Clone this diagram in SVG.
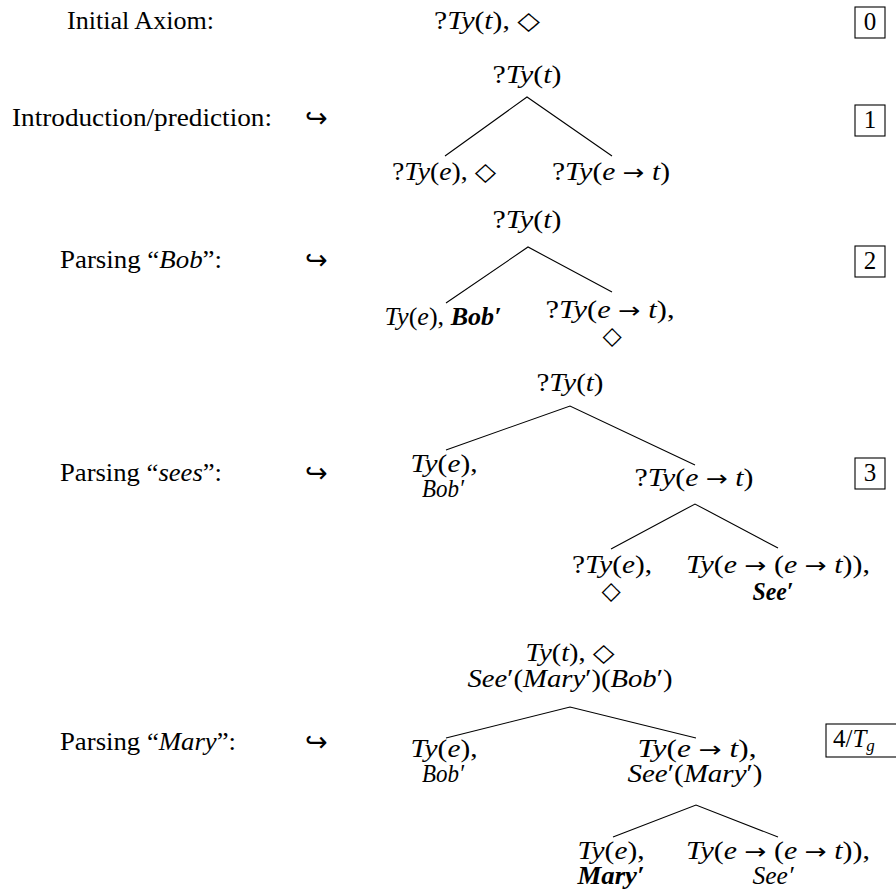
<svg xmlns="http://www.w3.org/2000/svg" width="896" height="890" viewBox="0 0 896 890">
<style>
text{font-family:"Liberation Serif","DejaVu Serif",serif;font-size:25px;fill:#000}
.i{font-style:italic}
.b{font-style:italic;font-weight:bold}
.d{font-family:"DejaVu Sans",sans-serif;font-size:25px}
.a{font-family:"DejaVu Sans",sans-serif;font-size:22px}
.h{font-family:"DejaVu Sans",sans-serif;font-size:27px}
.sub{font-size:17px;font-style:italic}
.edge{stroke:#000;stroke-width:1.1;fill:none}
.box{stroke:#000;stroke-width:1.1;fill:none}
</style>
<rect width="896" height="890" fill="#fff"/>
<g id="connectors">
<path class="edge" d="M445,156 L527,97 L612,156"/>
<path class="edge" d="M446,303 L528,247 L612,292"/>
<path class="edge" d="M446,450 L570,406 L695,465"/>
<path class="edge" d="M611,549 L695,504 L778,548"/>
<path class="edge" d="M446,738 L570,707 L696,738"/>
<path class="edge" d="M613,837 L696,805 L778,837"/>
</g>
<g id="labels">
<text x="140.5" y="29" text-anchor="middle" textLength="147" lengthAdjust="spacingAndGlyphs">Initial Axiom:</text>
<text x="12" y="126" textLength="260" lengthAdjust="spacingAndGlyphs">Introduction/prediction:</text>
<text x="60" y="268" textLength="162" lengthAdjust="spacingAndGlyphs">Parsing “<tspan class="i">Bob</tspan>”:</text>
<text x="60" y="481" textLength="162" lengthAdjust="spacingAndGlyphs">Parsing “<tspan class="i">sees</tspan>”:</text>
<text x="60" y="750" textLength="176" lengthAdjust="spacingAndGlyphs">Parsing “<tspan class="i">Mary</tspan>”:</text>
<text class="h" x="305" y="127">↪</text>
<text class="h" x="305" y="269">↪</text>
<text class="h" x="305" y="482">↪</text>
<text class="h" x="305" y="751">↪</text>
</g>
<g id="step-boxes">
<rect class="box" x="855" y="7" width="30" height="31"/>
<text x="870" y="30" text-anchor="middle">0</text>
<rect class="box" x="855" y="105" width="30" height="31"/>
<text x="870" y="128" text-anchor="middle">1</text>
<rect class="box" x="855" y="246" width="30" height="31"/>
<text x="870" y="269" text-anchor="middle">2</text>
<rect class="box" x="855" y="458" width="30" height="31"/>
<text x="870" y="481" text-anchor="middle">3</text>
<rect class="box" x="826" y="724" width="80" height="33"/>
<text x="833" y="747">4/<tspan class="i">T</tspan><tspan class="sub" dy="4">g</tspan></text>
</g>
<g id="n0-axiom"><text x="487" y="29" text-anchor="middle" textLength="106" lengthAdjust="spacingAndGlyphs">?<tspan class="i">Ty</tspan>(<tspan class="i">t</tspan>), <tspan class="d">◇</tspan></text></g>
<g id="n1-root"><text x="527" y="83" text-anchor="middle" textLength="69" lengthAdjust="spacingAndGlyphs">?<tspan class="i">Ty</tspan>(<tspan class="i">t</tspan>)</text></g>
<g id="n1-left"><text x="444" y="180" text-anchor="middle" textLength="104" lengthAdjust="spacingAndGlyphs">?<tspan class="i">Ty</tspan>(<tspan class="i">e</tspan>), <tspan class="d">◇</tspan></text></g>
<g id="n1-right"><text x="611" y="180" text-anchor="middle" textLength="118" lengthAdjust="spacingAndGlyphs">?<tspan class="i">Ty</tspan>(<tspan class="i">e</tspan> <tspan class="a">→</tspan> <tspan class="i">t</tspan>)</text></g>
<g id="n2-root"><text x="527" y="228" text-anchor="middle" textLength="69" lengthAdjust="spacingAndGlyphs">?<tspan class="i">Ty</tspan>(<tspan class="i">t</tspan>)</text></g>
<g id="n2-left"><text x="443" y="325" text-anchor="middle" textLength="117" lengthAdjust="spacingAndGlyphs"><tspan class="i">Ty</tspan>(<tspan class="i">e</tspan>), <tspan class="b">Bob′</tspan></text></g>
<g id="n2-right"><text x="610" y="318" text-anchor="middle" textLength="129" lengthAdjust="spacingAndGlyphs">?<tspan class="i">Ty</tspan>(<tspan class="i">e</tspan> <tspan class="a">→</tspan> <tspan class="i">t</tspan>),</text>
<text class="d" x="612" y="344" text-anchor="middle">◇</text></g>
<g id="n3-root"><text x="570" y="391" text-anchor="middle" textLength="67" lengthAdjust="spacingAndGlyphs">?<tspan class="i">Ty</tspan>(<tspan class="i">t</tspan>)</text></g>
<g id="n3-left"><text x="444" y="472" text-anchor="middle" textLength="67" lengthAdjust="spacingAndGlyphs"><tspan class="i">Ty</tspan>(<tspan class="i">e</tspan>),</text>
<text class="i" x="443" y="497" text-anchor="middle" textLength="42" lengthAdjust="spacingAndGlyphs">Bob′</text></g>
<g id="n3-right"><text x="694" y="486" text-anchor="middle" textLength="119" lengthAdjust="spacingAndGlyphs">?<tspan class="i">Ty</tspan>(<tspan class="i">e</tspan> <tspan class="a">→</tspan> <tspan class="i">t</tspan>)</text></g>
<g id="n3-rl"><text x="612" y="573" text-anchor="middle" textLength="80" lengthAdjust="spacingAndGlyphs">?<tspan class="i">Ty</tspan>(<tspan class="i">e</tspan>),</text>
<text class="d" x="611" y="599" text-anchor="middle">◇</text></g>
<g id="n3-rr"><text x="778" y="573" text-anchor="middle" textLength="184" lengthAdjust="spacingAndGlyphs"><tspan class="i">Ty</tspan>(<tspan class="i">e</tspan> <tspan class="a">→</tspan> (<tspan class="i">e</tspan> <tspan class="a">→</tspan> <tspan class="i">t</tspan>)),</text>
<text class="b" x="773" y="600" text-anchor="middle" textLength="41" lengthAdjust="spacingAndGlyphs">See′</text></g>
<g id="n4-root"><text x="570" y="661" text-anchor="middle" textLength="89" lengthAdjust="spacingAndGlyphs"><tspan class="i">Ty</tspan>(<tspan class="i">t</tspan>), <tspan class="d">◇</tspan></text>
<text x="570" y="687" text-anchor="middle" textLength="205" lengthAdjust="spacingAndGlyphs"><tspan class="i">See</tspan>′(<tspan class="i">Mary</tspan>′)(<tspan class="i">Bob</tspan>′)</text></g>
<g id="n4-left"><text x="444" y="757" text-anchor="middle" textLength="67" lengthAdjust="spacingAndGlyphs"><tspan class="i">Ty</tspan>(<tspan class="i">e</tspan>),</text>
<text class="i" x="443" y="782" text-anchor="middle" textLength="42" lengthAdjust="spacingAndGlyphs">Bob′</text></g>
<g id="n4-right"><text x="697" y="757" text-anchor="middle" textLength="119" lengthAdjust="spacingAndGlyphs"><tspan class="i">Ty</tspan>(<tspan class="i">e</tspan> <tspan class="a">→</tspan> <tspan class="i">t</tspan>),</text>
<text x="695" y="782" text-anchor="middle" textLength="135" lengthAdjust="spacingAndGlyphs"><tspan class="i">See</tspan>′(<tspan class="i">Mary</tspan>′)</text></g>
<g id="n4-rl"><text x="611" y="859" text-anchor="middle" textLength="67" lengthAdjust="spacingAndGlyphs"><tspan class="i">Ty</tspan>(<tspan class="i">e</tspan>),</text>
<text class="b" x="611" y="884" text-anchor="middle" textLength="67" lengthAdjust="spacingAndGlyphs">Mary′</text></g>
<g id="n4-rr"><text x="778" y="859" text-anchor="middle" textLength="184" lengthAdjust="spacingAndGlyphs"><tspan class="i">Ty</tspan>(<tspan class="i">e</tspan> <tspan class="a">→</tspan> (<tspan class="i">e</tspan> <tspan class="a">→</tspan> <tspan class="i">t</tspan>)),</text>
<text class="i" x="773" y="884" text-anchor="middle" textLength="41" lengthAdjust="spacingAndGlyphs">See′</text></g>
</svg>
